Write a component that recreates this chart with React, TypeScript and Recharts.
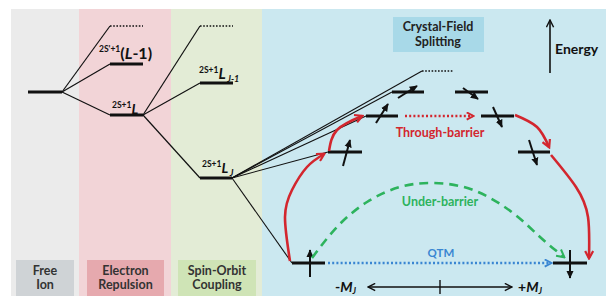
import React from "react";
import { ComposedChart, XAxis, YAxis, Line, ReferenceArea, ReferenceLine, ReferenceDot } from "recharts";

// Schematic energy-level diagram. x runs left to right across the stages,
// y is measured downward from the top of the figure (higher energy = smaller y).

const stageNames = [["Free", "Ion"], ["Electron", "Repulsion"], ["Spin-Orbit", "Coupling"]];
const stageSpans = [[11, 79], [79, 171], [171, 262], [262, 606]];
const stageBoxes = [[16, 74], [87, 164], [178, 256]];

// [xStart, xEnd, y]
const freeIonLevel = [28, 62, 92];
const repulsionLevels = [[110, 143, 26], [110, 143, 64], [110, 143, 115]];
const spinOrbitLevels = [[200, 233, 26], [200, 233, 83], [200, 232, 178]];
const cfLeftLevels = [[422, 454, 71], [392, 424, 92], [366, 398, 116], [328, 362, 152], [292, 325, 263]];
const cfRightLevels = [[455, 488, 92], [481, 514, 116], [518, 550, 152], [553, 587, 263]];

// spin arrows [x1, y1, x2, y2] (tail -> head)
const spins = [
  [398, 98, 417, 86], [463, 88, 478, 99],
  [376, 123, 388, 104], [493, 107, 502, 127],
  [343, 166, 350, 140], [529, 140, 537, 165],
  [310, 277, 310, 250], [570, 250, 570, 278],
];

// relaxation pathways
const overBarrierUp1 = [{ x: 290, y: 261 }, { x: 285, y: 217 }, { x: 292, y: 190 }, { x: 307, y: 167 }, { x: 324, y: 154 }];
const overBarrierUp2 = [{ x: 329, y: 151 }, { x: 337, y: 130 }, { x: 362, y: 116 }];
const overBarrierDown1 = [{ x: 515, y: 115 }, { x: 537, y: 127 }, { x: 549, y: 147 }];
const overBarrierDown2 = [{ x: 551, y: 155 }, { x: 576, y: 187 }, { x: 588, y: 217 }, { x: 589, y: 258 }];
const underBarrier = [
  { x: 312, y: 258 }, { x: 337, y: 227 }, { x: 367, y: 202 }, { x: 400, y: 187 }, { x: 433, y: 183 },
  { x: 473, y: 190 }, { x: 513, y: 213 }, { x: 540, y: 237 }, { x: 564, y: 257 },
];

const W = 606;
const H = 296;
const red = "#d3262e";
const green = "#2db35d";
const blue = "#3a86d2";
const ink = "#111";
const font = "Lato, 'Open Sans', sans-serif";
const panelFills = ["#ebebeb", "#f2d4d7", "#e3ecd6", "#cbe8f0"];
const boxFills = ["#cfd3d6", "#e6a9ae", "#cfe4b6"];

const seg = (key: string, x1: number, y1: number, x2: number, y2: number, props: any) => (
  <ReferenceLine key={key} segment={[{ x: x1, y: y1 }, { x: x2, y: y2 }]} ifOverflow="visible" {...props} />
);

const label = (key: string, x: number, y: number, draw: (cx: number, cy: number) => React.ReactNode) => (
  <ReferenceDot key={key} x={x} y={y} r={0} ifOverflow="visible" shape={(p: any) => <g>{draw(p.cx, p.cy)}</g>} />
);

const term = (key: string, x: number, y: number, sup: string, main: React.ReactNode, size: number, sub?: string) =>
  label(key, x, y, (cx, cy) => (
    <text x={cx} y={cy} fontFamily={font} fontWeight={700} fill={ink}>
      <tspan fontSize={8.5} dy={-size * 0.42}>{sup}</tspan>
      <tspan fontSize={size} dy={size * 0.42}>{main}</tspan>
      {sub ? <tspan fontSize={9} fontStyle="italic" dx={1.5} dy={3}>{sub}</tspan> : null}
    </text>
  ));

const levelLine = (key: string, l: number[], dotted: boolean) =>
  seg(key, l[0], l[2], l[1], l[2], dotted
    ? { stroke: ink, strokeWidth: 1.6, strokeDasharray: "1.6 1.6" }
    : { stroke: ink, strokeWidth: 3 });

export default function App() {
  const curves = [overBarrierUp1, overBarrierUp2, overBarrierDown1, overBarrierDown2];
  return (
    <div style={{ position: "absolute", left: 0, top: 0, width: W, height: H, background: "#fff" }}>
      <ComposedChart width={W} height={H} margin={{ top: 0, right: 0, bottom: 0, left: 0 }}>
        <defs>
          <marker id="hRed" viewBox="0 0 10 10" refX="8" refY="5" markerWidth="10" markerHeight="10" markerUnits="userSpaceOnUse" orient="auto">
            <path d="M1,1 L8.5,5 L1,9" fill="none" stroke={red} strokeWidth="2.2" />
          </marker>
          <marker id="hRedDot" viewBox="0 0 10 10" refX="8" refY="5" markerWidth="9" markerHeight="9" markerUnits="userSpaceOnUse" orient="auto">
            <path d="M1,1 L8.5,5 L1,9" fill="none" stroke={red} strokeWidth="2.2" />
          </marker>
          <marker id="hGreen" viewBox="0 0 10 10" refX="8" refY="5" markerWidth="10" markerHeight="10" markerUnits="userSpaceOnUse" orient="auto">
            <path d="M1,1 L8.5,5 L1,9" fill="none" stroke={green} strokeWidth="2" />
          </marker>
          <marker id="hBlue" viewBox="0 0 10 10" refX="8" refY="5" markerWidth="9" markerHeight="9" markerUnits="userSpaceOnUse" orient="auto">
            <path d="M1,1 L8.5,5 L1,9" fill="none" stroke={blue} strokeWidth="2" />
          </marker>
          <marker id="hBlack" viewBox="0 0 10 10" refX="9" refY="5" markerWidth="8" markerHeight="8" markerUnits="userSpaceOnUse" orient="auto">
            <path d="M0,0.5 L10,5 L0,9.5 z" fill={ink} />
          </marker>
          <marker id="hThin" viewBox="0 0 10 10" refX="9" refY="5" markerWidth="9" markerHeight="9" markerUnits="userSpaceOnUse" orient="auto-start-reverse">
            <path d="M1,1 L9,5 L1,9" fill="none" stroke={ink} strokeWidth="1.6" />
          </marker>
        </defs>
        <XAxis type="number" dataKey="x" domain={[0, W]} hide allowDataOverflow />
        <YAxis type="number" domain={[0, H]} reversed hide allowDataOverflow />

        {stageSpans.map((s, i) => (
          <ReferenceArea key={"p" + i} x1={s[0]} x2={s[1]} y1={9} y2={H} fill={panelFills[i]} fillOpacity={1} stroke="none" ifOverflow="visible" />
        ))}
        {stageBoxes.map((b, i) => (
          <ReferenceArea key={"b" + i} x1={b[0]} x2={b[1]} y1={260} y2={H} fill={boxFills[i]} fillOpacity={1} stroke="none" ifOverflow="visible" />
        ))}
        <ReferenceArea x1={393} x2={484} y1={17} y2={52} fill="#a8d9e8" fillOpacity={1} stroke="none" ifOverflow="visible" />

        {/* connectors between stages */}
        {repulsionLevels.map((l, i) => seg("c1" + i, freeIonLevel[1], freeIonLevel[2], l[0], l[2], { stroke: ink, strokeWidth: 1.2 }))}
        {spinOrbitLevels.map((l, i) => seg("c2" + i, repulsionLevels[2][1], repulsionLevels[2][2], l[0], l[2], { stroke: ink, strokeWidth: 1.2 }))}
        {cfLeftLevels.map((l, i) => seg("c3" + i, spinOrbitLevels[2][1], spinOrbitLevels[2][2], l[0], l[2], { stroke: ink, strokeWidth: 1.1 }))}

        {levelLine("f", freeIonLevel, false)}
        {repulsionLevels.map((l, i) => levelLine("r" + i, l, i === 0))}
        {spinOrbitLevels.map((l, i) => levelLine("s" + i, l, i === 0))}
        {cfLeftLevels.map((l, i) => levelLine("cl" + i, l, i === 0))}
        {cfRightLevels.map((l, i) => levelLine("cr" + i, l, false))}

        {spins.map((s, i) => seg("sp" + i, s[0], s[1], s[2], s[3], { stroke: ink, strokeWidth: 2, markerEnd: "url(#hBlack)" }))}

        {curves.map((c, i) => (
          <Line key={"oc" + i} data={c} dataKey="y" type="natural" stroke={red} strokeWidth={2.6} dot={false} activeDot={false} isAnimationActive={false} markerEnd="url(#hRed)" />
        ))}
        <Line data={underBarrier} dataKey="y" type="natural" stroke={green} strokeWidth={2.6} strokeDasharray="9 6" dot={false} activeDot={false} isAnimationActive={false} markerEnd="url(#hGreen)" />

        {seg("tb", 405, 116, 473, 116, { stroke: red, strokeWidth: 2.6, strokeDasharray: "2 2.2", markerEnd: "url(#hRedDot)" })}
        {seg("qtm", 328, 263, 551, 263, { stroke: blue, strokeWidth: 2.6, strokeDasharray: "2 2.2", markerEnd: "url(#hBlue)" })}

        {/* energy and M_J axes */}
        {seg("en", 550, 73, 550, 20, { stroke: ink, strokeWidth: 1.6, markerEnd: "url(#hThin)" })}
        {seg("mj", 368, 287, 512, 287, { stroke: ink, strokeWidth: 1.6, markerStart: "url(#hThin)", markerEnd: "url(#hThin)" })}
        {seg("mj0", 440, 280, 440, 294, { stroke: ink, strokeWidth: 1.4 })}

        {term("t1", 99, 59, "2S'+1", <>(<tspan fontStyle="italic">L</tspan>-1)</>, 16)}
        {term("t2", 112, 114, "2S+1", <tspan fontStyle="italic">L</tspan>, 14)}
        {term("t3", 199, 79, "2S+1", <tspan fontStyle="italic">L</tspan>, 15, "J-1")}
        {term("t4", 202, 173, "2S+1", <tspan fontStyle="italic">L</tspan>, 14, "J")}

        {stageNames.map((n, i) =>
          label("sn" + i, (stageBoxes[i][0] + stageBoxes[i][1]) / 2, 271, (cx, cy) => (
            <text x={cx} y={cy} textAnchor="middle" fontFamily={font} fontWeight={700} fontSize={12.5} fill="#333">
              <tspan x={cx} dy={4}>{n[0]}</tspan>
              <tspan x={cx} dy={14}>{n[1]}</tspan>
            </text>
          ))
        )}
        {label("cf", 438, 27, (cx, cy) => (
          <text x={cx} y={cy} textAnchor="middle" fontFamily={font} fontWeight={700} fontSize={12.5} fill="#222">
            <tspan x={cx} dy={4}>Crystal-Field</tspan>
            <tspan x={cx} dy={14.5}>Splitting</tspan>
          </text>
        ))}
        {label("en", 555, 49, (cx, cy) => (
          <text x={cx} y={cy + 5} fontFamily={font} fontWeight={700} fontSize={14} fill="#111">Energy</text>
        ))}
        {label("tb", 440, 133, (cx, cy) => (
          <text x={cx} y={cy + 4} textAnchor="middle" fontFamily={font} fontWeight={700} fontSize={12.5} fill={red}>Through-barrier</text>
        ))}
        {label("ub", 440, 202, (cx, cy) => (
          <text x={cx} y={cy + 4} textAnchor="middle" fontFamily={font} fontWeight={700} fontSize={12.5} fill={green}>Under-barrier</text>
        ))}
        {label("qt", 441, 253, (cx, cy) => (
          <text x={cx} y={cy + 4} textAnchor="middle" fontFamily={font} fontWeight={700} fontSize={11.5} fill={blue}>QTM</text>
        ))}
        {label("m1", 335, 287, (cx, cy) => (
          <text x={cx} y={cy + 5} fontFamily={font} fontWeight={700} fontSize={14} fill={ink}>
            -<tspan fontStyle="italic">M</tspan><tspan fontSize={8.5} fontStyle="italic" dy={2}>J</tspan>
          </text>
        ))}
        {label("m2", 518, 287, (cx, cy) => (
          <text x={cx} y={cy + 5} fontFamily={font} fontWeight={700} fontSize={14} fill={ink}>
            +<tspan fontStyle="italic">M</tspan><tspan fontSize={8.5} fontStyle="italic" dy={2}>J</tspan>
          </text>
        ))}
      </ComposedChart>
    </div>
  );
}
